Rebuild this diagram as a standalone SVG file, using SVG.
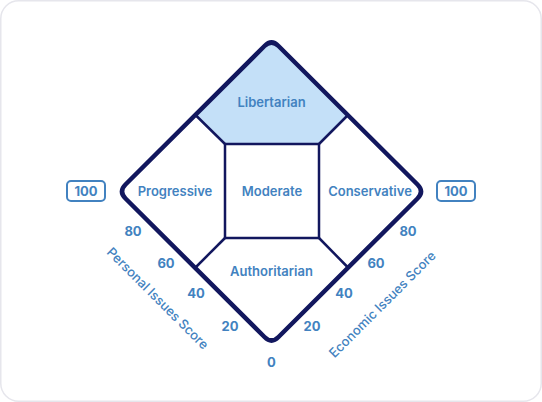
<svg xmlns="http://www.w3.org/2000/svg" width="542" height="402" viewBox="0 0 542 402">
<style>
.lbl{font-family:Inter,"Liberation Sans",sans-serif;font-weight:600;font-size:13px;fill:#4282c0;text-anchor:middle;dominant-baseline:central}
.num{font-family:Inter,"Liberation Sans",sans-serif;font-weight:700;font-size:13px;fill:#4282c0;text-anchor:middle;dominant-baseline:central}
.ax{font-family:Inter,"Liberation Sans",sans-serif;font-weight:500;font-size:13px;fill:#4282c0;text-anchor:middle;dominant-baseline:central}
.edge{fill:none;stroke:#12175e;stroke-width:2.5;stroke-linecap:round}
.box{fill:#fff;stroke:#4282c0;stroke-width:2}
</style>
<rect x="0.75" y="0.75" width="540.5" height="400.5" rx="18" fill="#fff" stroke="#e6e6ec" stroke-width="1.5"/>
<g id="libertarian">
<path d="M195.5,115.5 L265,45.5 Q271.5,39 278,45.5 L348,115.5 L319,144 L225,144 Z" fill="#c4e0f8"/>
<text class="lbl" x="271.5" y="102">Libertarian</text>
</g>
<g id="progressive"><text class="lbl" x="175" y="191">Progressive</text></g>
<g id="moderate">
<rect x="225" y="144" width="94" height="94" fill="none" stroke="#12175e" stroke-width="2.5"/>
<text class="lbl" x="272" y="191">Moderate</text>
</g>
<g id="conservative"><text class="lbl" x="370" y="191">Conservative</text></g>
<g id="authoritarian"><text class="lbl" x="271.5" y="271">Authoritarian</text></g>
<g id="connectors">
<line class="edge" x1="225" y1="144" x2="195.5" y2="115"/>
<line class="edge" x1="319" y1="144" x2="348" y2="115"/>
<line class="edge" x1="225" y1="238" x2="195.5" y2="267.5"/>
<line class="edge" x1="319" y1="238" x2="348" y2="267.5"/>
<path d="M264.5,46 Q271.5,39 278.5,46 L417.5,184.5 Q424.5,191.5 417.5,198.5 L278.5,337 Q271.5,344 264.5,337 L125.5,198.5 Q118.5,191.5 125.5,184.5 Z" fill="none" stroke="#12175e" stroke-width="4.5" stroke-linejoin="round"/>
</g>
<g id="left-scale">
<rect class="box" x="67" y="181" width="38" height="20" rx="4"/>
<text class="num" x="86" y="191">100</text>
<text class="num" x="133" y="231">80</text>
<text class="num" x="166" y="263">60</text>
<text class="num" x="196" y="293">40</text>
<text class="num" x="230" y="326">20</text>
<text class="num" x="271.5" y="362">0</text>
<text class="ax" transform="translate(158,298) rotate(45)">Personal Issues Score</text>
</g>
<g id="right-scale">
<rect class="box" x="437" y="181" width="38" height="20" rx="4"/>
<text class="num" x="456" y="191">100</text>
<text class="num" x="408" y="231">80</text>
<text class="num" x="376" y="263">60</text>
<text class="num" x="344" y="293">40</text>
<text class="num" x="312" y="326">20</text>
<text class="ax" transform="translate(382,304) rotate(-45)">Economic Issues Score</text>
</g>
</svg>
